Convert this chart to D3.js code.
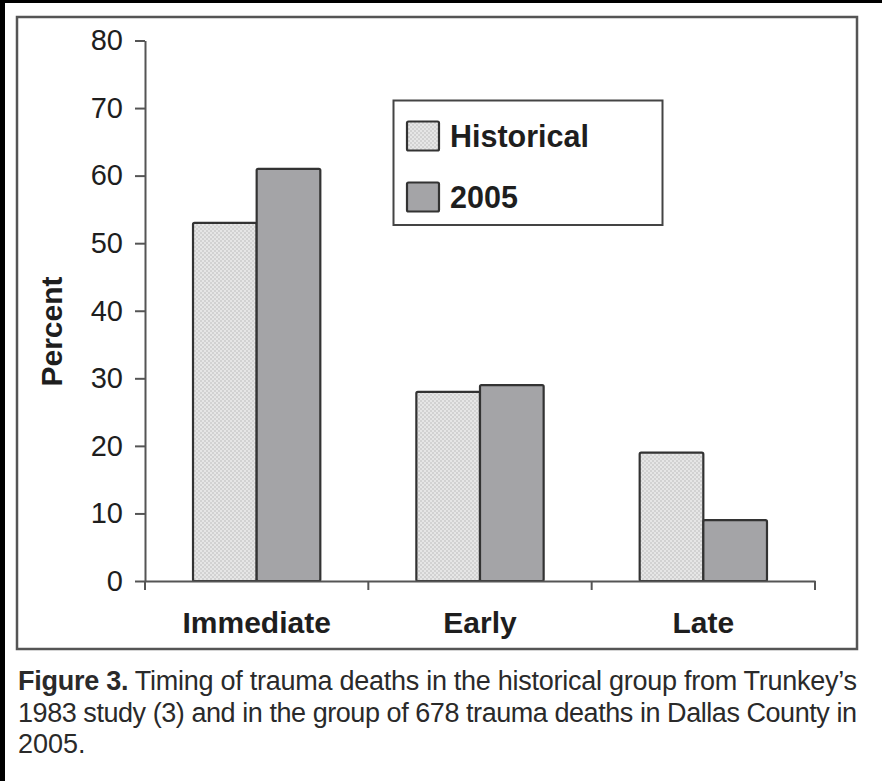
<!DOCTYPE html>
<html>
<head>
<meta charset="utf-8">
<script src="https://cdn.jsdelivr.net/npm/d3@7"></script>
<style>
  html, body { margin: 0; padding: 0; background: #fff; }
  svg { display: block; }
</style>
</head>
<body>
<div id="chart"></div>
<script>
// ---- data ----
const categories = ["Immediate", "Early", "Late"];
const seriesNames = ["Historical", "2005"];
const historical = [53, 28, 19];
const y2005 = [61, 29, 9];
const yTicks = [0, 10, 20, 30, 40, 50, 60, 70, 80];
const yLabel = "Percent";
const captionBold = "Figure 3.";
const captionLines = [
  " Timing of trauma deaths in the historical group from Trunkey\u2019s",
  "1983 study (3) and in the group of 678 trauma deaths in Dallas County in",
  "2005."
];

const W = 882, H = 781;
const svg = d3.select("#chart").append("svg").attr("width", W).attr("height", H);

const defs = svg.append("defs");
const pat = defs.append("pattern").attr("id", "dots").attr("patternUnits", "userSpaceOnUse")
  .attr("width", 4).attr("height", 4);
pat.append("rect").attr("width", 4).attr("height", 4).attr("fill", "#e6e6e6");
pat.append("rect").attr("x", 0).attr("y", 0).attr("width", 2).attr("height", 2).attr("fill", "#d2d2d2");
pat.append("rect").attr("x", 2).attr("y", 2).attr("width", 2).attr("height", 2).attr("fill", "#d2d2d2");

// outer black frame bits
svg.append("rect").attr("x", 0).attr("y", 0).attr("width", W).attr("height", 3).attr("fill", "#000");
svg.append("rect").attr("x", 0).attr("y", 0).attr("width", 5).attr("height", H).attr("fill", "#000");

// inner border
svg.append("rect").attr("x", 17).attr("y", 17).attr("width", 840).attr("height", 632)
  .attr("fill", "none").attr("stroke", "#555").attr("stroke-width", 2.5);

// scales
const y = d3.scaleLinear().domain([0, 80]).range([581, 40.5]);
const x = d3.scaleBand().domain(categories).range([145, 815]).paddingInner(0.43).paddingOuter(0.215);
const xs = d3.scaleBand().domain(seriesNames).range([0, x.bandwidth()]);
const fills = ["url(#dots)", "#a4a4a7"];
const values = [historical, y2005];

const textColor = "#1e1e1e";
const axisColor = "#555";
const font = "Liberation Sans, Arial, sans-serif";

// bars
seriesNames.forEach((s, si) => {
  svg.append("g").selectAll("rect").data(categories).join("rect")
    .attr("x", c => x(c) + xs(s))
    .attr("y", (c, i) => y(values[si][i]))
    .attr("width", xs.bandwidth())
    .attr("height", (c, i) => y(0) - y(values[si][i]))
    .attr("rx", 1.5)
    .attr("fill", fills[si])
    .attr("stroke", "#333").attr("stroke-width", 2.2);
});

// y axis
const gy = svg.append("g").attr("transform", "translate(145,0)")
  .call(d3.axisLeft(y).tickValues(yTicks).tickSize(10).tickPadding(12).tickSizeOuter(0));
gy.select(".domain").attr("stroke", axisColor).attr("stroke-width", 2);
gy.selectAll(".tick line").attr("stroke", axisColor).attr("stroke-width", 2);
gy.selectAll(".tick text").attr("fill", textColor)
  .attr("font-family", font).attr("font-size", 29);

// x axis
const gx = svg.append("g").attr("transform", `translate(0,${y(0)})`)
  .call(d3.axisBottom(x).tickSize(0).tickPadding(31).tickSizeOuter(0));
gx.select(".domain").attr("stroke", axisColor).attr("stroke-width", 2);
gx.selectAll(".tick text").attr("fill", textColor)
  .attr("font-family", font).attr("font-size", 30).attr("font-weight", "bold");
// boundary ticks
const bounds = d3.range(categories.length + 1).map(i => x.range()[0] + i * x.step());
gx.append("g").selectAll("line").data(bounds).join("line")
  .attr("x1", d => d).attr("x2", d => d).attr("y1", 0).attr("y2", 9)
  .attr("stroke", axisColor).attr("stroke-width", 2);

// y label
svg.append("text")
  .attr("transform", `translate(62,${(275 + 388) / 2}) rotate(-90)`)
  .attr("text-anchor", "middle")
  .attr("font-family", font).attr("font-size", 30).attr("font-weight", "bold")
  .attr("fill", textColor).text(yLabel);

// legend
const lg = svg.append("g");
lg.append("rect").attr("x", 393.5).attr("y", 100.5).attr("width", 269).attr("height", 124.5)
  .attr("fill", "#fff").attr("stroke", "#444").attr("stroke-width", 2);
const legY = [121.5, 182.5];
seriesNames.forEach((s, i) => {
  lg.append("rect").attr("x", 407).attr("y", legY[i]).attr("width", 32).attr("height", 29).attr("rx", 1.5)
    .attr("fill", fills[i]).attr("stroke", "#333").attr("stroke-width", 2.2);
  lg.append("text").attr("x", 450).attr("y", legY[i] + 25.5)
    .attr("font-family", font).attr("font-size", 30.5).attr("font-weight", "bold")
    .attr("fill", textColor).text(s);
});

// caption
const capFont = "'Liberation Sans Narrow', 'Arial Narrow', 'Liberation Sans', sans-serif";
const capBase = [690, 722, 753];
captionLines.forEach((line, i) => {
  const t = svg.append("text").attr("x", 18).attr("y", capBase[i])
    .attr("font-family", capFont).attr("font-size", 27).attr("fill", "#2a2a2a");
  if (i < 2) t.attr("textLength", 839).attr("lengthAdjust", "spacing");
  if (i === 0) t.append("tspan").attr("font-weight", "bold").text(captionBold);
  t.append("tspan").text(line);
});
</script>
</body>
</html>
